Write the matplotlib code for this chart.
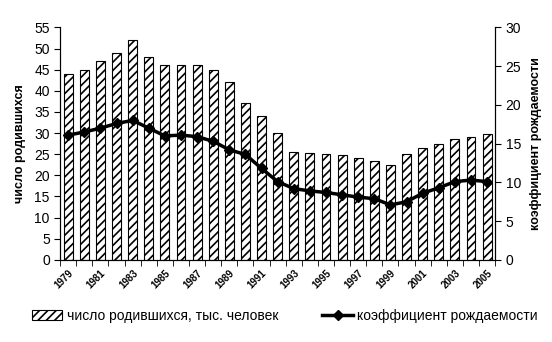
import numpy as np
import matplotlib.pyplot as plt

plt.rcParams['font.family'] = ['Liberation Sans', 'DejaVu Sans']
plt.rcParams['hatch.linewidth'] = 1.2

# годы
years = list(range(1979, 2006))
# число родившихся, тыс. человек
births = [44, 45, 47, 49, 52, 48, 46, 46, 46, 45, 42, 37, 34, 30,
          25.5, 25.3, 25.0, 24.7, 24.1, 23.4, 22.5, 25.1, 26.5, 27.5, 28.7, 29.1, 29.7]
# коэффициент рождаемости
rate = [16.1, 16.5, 17.0, 17.6, 18.0, 17.0, 16.0, 16.1, 15.9, 15.3, 14.2, 13.6, 11.8, 10.1,
        9.2, 8.9, 8.7, 8.4, 8.1, 7.9, 7.1, 7.5, 8.6, 9.3, 10.1, 10.3, 10.1]

x = np.arange(len(years))

fig = plt.figure(figsize=(5.52, 3.42), dpi=100)
ax = fig.add_axes([0.109, 0.240, 0.788, 0.680])
ax2 = ax.twinx()

bars = ax.bar(x, births, width=0.55, color='white', edgecolor='black',
              hatch='////', linewidth=0.8, label='число родившихся, тыс. человек')
ln, = ax2.plot(x, rate, color='black', lw=2.5, marker='D', markersize=5,
               label='коэффициент рождаемости')

ax.set_xlim(-0.5, len(years) - 0.5)
ax.set_ylim(0, 55)
ax.set_yticks(range(0, 56, 5))
ax2.set_ylim(0, 30)
ax2.set_yticks(range(0, 31, 5))

ax.set_xticks(x[::2])
ax.set_xticklabels([str(y) for y in years[::2]], rotation=45, ha='right',
                   rotation_mode='anchor', fontsize=7, fontweight='bold')
ax.set_xticks(np.arange(-0.5, len(years)), minor=True)
ax.tick_params(axis='x', which='major', length=0, pad=6)
ax.tick_params(axis='x', which='minor', length=4, direction='out')
ax.tick_params(axis='y', labelsize=10, length=4)
ax2.tick_params(axis='y', labelsize=10, length=4)

ax.set_ylabel('число родившихся', fontsize=9, fontweight='bold', labelpad=6)
ax2.set_ylabel('коэффициент рождаемости', fontsize=9, fontweight='bold',
               rotation=90, labelpad=6)

for a in (ax, ax2):
    a.spines['top'].set_visible(False)

fig.legend([bars, ln], ['число родившихся, тыс. человек', 'коэффициент рождаемости'],
           loc='center left', bbox_to_anchor=(0.035, 0.076), ncol=2, frameon=False,
           fontsize=10, columnspacing=3.2, handlelength=2.2, handletextpad=0.3)

fig.savefig('out.png', dpi=100)
